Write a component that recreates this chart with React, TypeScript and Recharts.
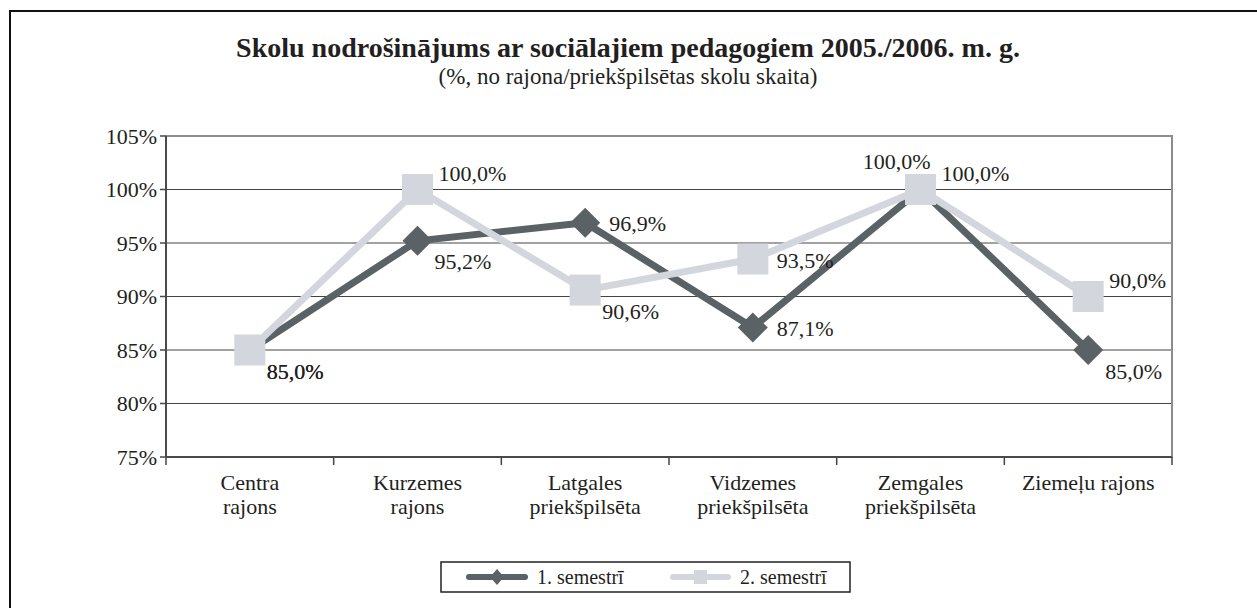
import { CartesianGrid, Line, LineChart, ReferenceArea, XAxis, YAxis } from 'recharts'

const categories = [
  'Centra\nrajons',
  'Kurzemes\nrajons',
  'Latgales\npriekšpilsēta',
  'Vidzemes\npriekšpilsēta',
  'Zemgales\npriekšpilsēta',
  'Ziemeļu rajons',
]
const semester1 = [85.0, 95.2, 96.9, 87.1, 100.0, 85.0]
const semester2 = [85.0, 100.0, 90.6, 93.5, 100.0, 90.0]
const yTicks = [75, 80, 85, 90, 95, 100, 105]
const seriesNames = ['1. semestrī', '2. semestrī']

// which side of the marker each value label sits on
const labelSides1 = ['below-right', 'below-right', 'right', 'right', 'above-left', 'below-right']
const labelSides2 = ['below-right', 'above-right', 'below-right', 'right', 'above-right', 'above-right']

const data = categories.map((name, i) => ({ name, s1: semester1[i], s2: semester2[i] }))

const FONT = '"Liberation Serif", "Times New Roman", serif'
const INK = '#231f20'
const DARK = '#5a6266'
const LIGHT = '#d3d6dd'
const W = 1257
const H = 608

const sidePos: Record<string, { dx: number; dy: number; anchor: 'start' | 'end' }> = {
  'below-right': { dx: 17, dy: 21, anchor: 'start' },
  right: { dx: 24, dy: 1, anchor: 'start' },
  'above-right': { dx: 21, dy: -16, anchor: 'start' },
  'above-left': { dx: 10, dy: -28, anchor: 'end' },
}

const fmt = (v: number) => v.toFixed(1).replace('.', ',') + '%'

function makeLabel(sides: string[]) {
  return (props: any) => {
    const { x, y, value, index } = props
    const p = sidePos[sides[index]] ?? sidePos.right
    return (
      <text
        key={`lbl-${index}`}
        x={x + p.dx}
        y={y + p.dy}
        textAnchor={p.anchor}
        dominantBaseline="central"
        style={{ fontFamily: FONT, fontSize: 22 }}
        fill={INK}
      >
        {fmt(value)}
      </text>
    )
  }
}

function Diamond(props: any) {
  const { cx, cy, index } = props
  const r = 15
  return (
    <polygon
      key={`d-${index}`}
      points={`${cx},${cy - r} ${cx + r},${cy} ${cx},${cy + r} ${cx - r},${cy}`}
      fill={DARK}
    />
  )
}

function Square(props: any) {
  const { cx, cy, index } = props
  const r = 15.5
  return <rect key={`s-${index}`} x={cx - r} y={cy - r} width={r * 2} height={r * 2} fill={LIGHT} />
}

function CategoryTick(props: any) {
  const { x, y, payload, index } = props
  const half = payload?.offset || 1006 / 12
  const lines = String(payload.value).split('\n')
  return (
    <g>
      <line x1={x - half} x2={x - half} y1={y} y2={y + 8} stroke="#444" strokeWidth={1.5} />
      {index === categories.length - 1 && (
        <line x1={x + half} x2={x + half} y1={y} y2={y + 8} stroke="#444" strokeWidth={1.5} />
      )}
      <text x={x} y={y + 33} textAnchor="middle" style={{ fontFamily: FONT, fontSize: 22 }} fill={INK}>
        {lines.map((l, i) => (
          <tspan key={i} x={x} dy={i === 0 ? 0 : 24}>
            {l}
          </tspan>
        ))}
      </text>
    </g>
  )
}

export default function App() {
  return (
    <div
      style={{
        position: 'fixed',
        left: 0,
        top: 0,
        width: W,
        height: H,
        overflow: 'hidden',
        background: '#fff',
        fontFamily: FONT,
      }}
    >
      <div
        style={{
          position: 'absolute',
          left: 9,
          top: 10,
          width: W + 40,
          height: H + 40,
          border: '2px solid #111',
        }}
      />
      <div style={{ position: 'absolute', left: 0, top: 0 }}>
        <LineChart
          width={W}
          height={H}
          data={data}
          margin={{ top: 136, right: 85, bottom: 81, left: 86 }}
          style={{ fontFamily: FONT }}
        >
          <CartesianGrid vertical={false} stroke="#444" strokeWidth={1} />
          <ReferenceArea y1={75} y2={105} fill="none" stroke="#8a8d90" strokeWidth={2} ifOverflow="visible" />
          <XAxis
            dataKey="name"
            scale="band"
            height={70}
            interval={0}
            tickSize={0}
            tickMargin={0}
            tickLine={false}
            axisLine={{ stroke: '#4a4a4a', strokeWidth: 2 }}
            tick={<CategoryTick />}
          />
          <YAxis
            width={80}
            domain={[75, 105]}
            ticks={yTicks}
            interval={0}
            tickSize={6}
            tickMargin={3}
            tickFormatter={(v: number) => `${v}%`}
            axisLine={{ stroke: '#4a4a4a', strokeWidth: 2 }}
            tickLine={{ stroke: '#4a4a4a', strokeWidth: 1.5 }}
            tick={{ fill: INK, fontSize: 22, fontFamily: FONT, style: { fontFamily: FONT } }}
          />
          <Line
            type="linear"
            dataKey="s1"
            name={seriesNames[0]}
            stroke={DARK}
            strokeWidth={7}
            strokeLinejoin="round"
            dot={Diamond}
            activeDot={false}
            label={makeLabel(labelSides1)}
            isAnimationActive={false}
          />
          <Line
            type="linear"
            dataKey="s2"
            name={seriesNames[1]}
            stroke={LIGHT}
            strokeWidth={7}
            strokeLinejoin="round"
            dot={Square}
            activeDot={false}
            label={makeLabel(labelSides2)}
            isAnimationActive={false}
          />
        </LineChart>
      </div>
      <svg width={W} height={H} style={{ position: 'absolute', left: 0, top: 0, pointerEvents: 'none' }}>
        <text x={628} y={57} textAnchor="middle" style={{ fontFamily: FONT, fontSize: 28, fontWeight: 'bold' }} fill={INK}>
          Skolu nodrošinājums ar sociālajiem pedagogiem 2005./2006. m. g.
        </text>
        <text x={628} y={84} textAnchor="middle" style={{ fontFamily: FONT, fontSize: 23 }} fill={INK}>
          (%, no rajona/priekšpilsētas skolu skaita)
        </text>
        <rect x={441} y={562} width={409} height={30} fill="#fff" stroke="#222" strokeWidth={1.5} />
        <line x1={469} x2={525} y1={577} y2={577} stroke={DARK} strokeWidth={6} strokeLinecap="round" />
        <polygon points="497,569 504,577 497,585 490,577" fill={DARK} />
        <text x={537} y={584} style={{ fontFamily: FONT, fontSize: 20 }} fill={INK}>
          {seriesNames[0]}
        </text>
        <line x1={673} x2={728} y1={577} y2={577} stroke={LIGHT} strokeWidth={6} strokeLinecap="round" />
        <rect x={694} y={570} width={13} height={14} fill={LIGHT} />
        <text x={740} y={584} style={{ fontFamily: FONT, fontSize: 20 }} fill={INK}>
          {seriesNames[1]}
        </text>
      </svg>
    </div>
  )
}
